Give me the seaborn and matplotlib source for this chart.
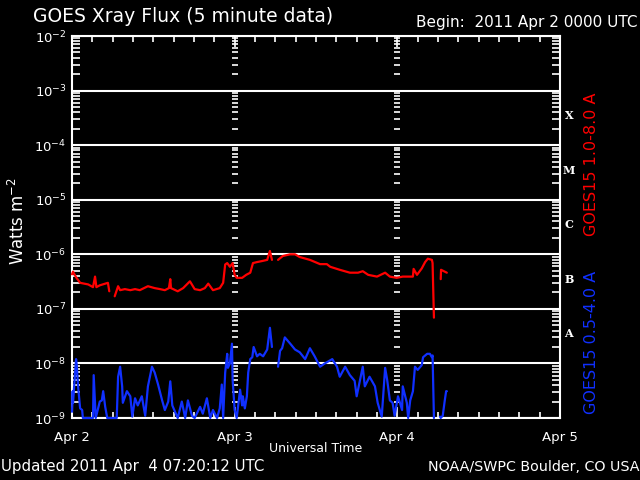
import numpy as np
import pandas as pd
import matplotlib
matplotlib.use("Agg")
import matplotlib.pyplot as plt
import seaborn as sns
from matplotlib.ticker import FixedLocator, NullFormatter, LogFormatterSciNotation
import matplotlib.transforms as mtransforms

nan = np.nan

# hours since 2011 Apr 2 0000 UTC, flux in W m^-2 (nan = data gap)
red_hours = [0.0, 0.15, 0.6, 1.2, 2.4, 3.1, 3.4, 3.6, 4.1, 5.3, 5.5, 6.0, 6.3, 6.8, 7.1, 7.8, 8.6, 9.3,
             10.0, 11.2, 12.2, 13.0, 13.7, 14.3, 14.5, 14.6, 15.6, 16.4, 17.4, 18.1, 18.9, 19.6, 20.1,
             20.8, 21.8, 22.3, 22.6, 22.9, 23.3, 23.7, 24.0, 24.3, 25.1, 25.7, 26.3, 26.7, 27.3, 28.0,
             28.8, 29.2, 29.5, 30.0, 30.4, 31.1, 32.2, 32.9, 33.6, 35.1, 36.6, 37.6, 38.1, 39.5, 41.0,
             42.2, 42.9, 43.7, 45.0, 46.2, 46.9, 47.9, 48.8, 49.9, 50.3, 50.4, 50.9, 51.6, 52.1, 52.5,
             53.1, 53.2, 53.4, 53.8, 54.4, 54.45, 55.3]
red_flux = [4.3e-7, 4.8e-7, 3.8e-7, 3.0e-7, 2.8e-7, 2.5e-7, 3.9e-7, 2.5e-7, 2.7e-7, 3.0e-7, 2.1e-7, nan,
            1.7e-7, 2.6e-7, 2.2e-7, 2.3e-7, 2.2e-7, 2.3e-7, 2.2e-7, 2.6e-7, 2.4e-7, 2.3e-7, 2.2e-7,
            2.4e-7, 3.5e-7, 2.4e-7, 2.1e-7, 2.4e-7, 3.2e-7, 2.3e-7, 2.2e-7, 2.4e-7, 2.9e-7, 2.2e-7,
            2.4e-7, 3.0e-7, 6.5e-7, 6.9e-7, 5.9e-7, 6.9e-7, 4.2e-7, 3.7e-7, 3.7e-7, 4.2e-7, 4.6e-7,
            6.9e-7, 7.2e-7, 7.5e-7, 7.9e-7, 1.15e-6, 7.9e-7, nan, 7.9e-7, 9.3e-7, 1.0e-6, 1.0e-6,
            8.9e-7, 7.9e-7, 6.6e-7, 6.6e-7, 5.9e-7, 5.2e-7, 4.6e-7, 4.6e-7, 4.9e-7, 4.2e-7, 3.9e-7,
            4.6e-7, 3.9e-7, 3.7e-7, 3.9e-7, 3.9e-7, 3.9e-7, 5.4e-7, 4.2e-7, 5.5e-7, 7.2e-7, 8.3e-7,
            7.9e-7, 6.9e-7, 6.9e-8, nan, 3.5e-7, 5.2e-7, 4.6e-7]

blue_hours = [0.0, 0.1, 0.15, 0.6, 0.7, 0.9, 1.2, 1.5, 1.6, 3.1, 3.2, 3.5, 4.1, 4.4, 4.6, 4.9, 5.2, 6.6,
              6.8, 7.1, 7.4, 7.5, 8.1, 8.6, 8.9, 9.3, 9.7, 10.3, 10.8, 11.2, 11.8, 12.2, 12.7, 13.3,
              13.7, 14.2, 14.5, 14.8, 15.2, 15.6, 16.2, 16.7, 17.1, 17.7, 18.1, 18.9, 19.3, 19.9, 20.4,
              20.8, 21.4, 21.8, 22.1, 22.3, 22.6, 22.9, 23.0, 23.3, 23.6, 23.7, 24.0, 24.3, 24.8, 25.1,
              25.2, 25.5, 25.8, 26.0, 26.3, 26.6, 26.8, 27.3, 27.7, 28.2, 28.8, 29.2, 29.5, 30.0, 30.4,
              30.7, 31.0, 31.4, 32.2, 32.9, 33.6, 34.4, 35.1, 35.8, 36.6, 37.3, 38.4, 39.1, 39.5, 40.3,
              41.0, 41.7, 42.0, 42.9, 43.2, 43.9, 44.7, 45.1, 45.7, 46.2, 46.5, 46.9, 47.3, 47.6, 48.1,
              48.7, 48.8, 49.4, 49.6, 49.9, 50.3, 50.6, 51.0, 51.6, 51.8, 52.4, 52.8, 53.1, 53.2, 53.4,
              53.8, 54.3, 54.4, 54.7, 55.0, 55.2, 55.3]
blue_flux = [1.3e-9, 3.1e-9, 1.9e-9, 1.2e-8, 9.3e-9, 3.8e-9, 1.5e-9, 1.4e-9, 1.0e-9, 1.0e-9,
             6.1e-9, 1.0e-9, 2.0e-9, 2.1e-9, 3.1e-9, 1.6e-9, 1.0e-9, 1.0e-9, 5.7e-9, 8.7e-9,
             3.8e-9, 1.9e-9, 3.1e-9, 2.5e-9, 1.06e-9, 2.3e-9, 1.7e-9, 2.5e-9, 1.1e-9, 3.8e-9,
             8.7e-9, 6.8e-9, 4.1e-9, 2.1e-9, 1.4e-9, 2.0e-9, 4.7e-9, 1.7e-9, 1.3e-9, 1.0e-9,
             2.0e-9, 1.0e-9, 2.1e-9, 1.1e-9, 1.0e-9, 1.6e-9, 1.2e-9, 2.3e-9, 1.0e-9, 1.4e-9,
             1.0e-9, 1.5e-9, 4.1e-9, 1.0e-9, 6.8e-9, 1.5e-8, 8.3e-9, 1.0e-8, 2.3e-8, 5.0e-9,
             1.4e-9, 1.0e-9, 3.3e-9, 1.7e-9, 2.5e-9, 1.5e-9, 2.5e-9, 6.8e-9, 1.2e-8, 1.3e-8,
             2.0e-8, 1.35e-8, 1.5e-8, 1.35e-8, 1.8e-8, 4.5e-8, 2.0e-8, nan, 8.7e-9, 1.7e-8,
             1.9e-8, 3.0e-8, 2.3e-8, 1.8e-8, 1.6e-8, 1.2e-8, 1.9e-8, 1.35e-8, 8.7e-9, 1.0e-8,
             1.2e-8, 8.7e-9, 5.7e-9, 8.7e-9, 6.1e-9, 4.8e-9, 2.5e-9, 8.7e-9, 3.8e-9, 5.7e-9,
             3.8e-9, 1.9e-9, 1.06e-9, 8.3e-9, 5.0e-9, 2.1e-9, 1.9e-9, 1.1e-9, 2.5e-9, 1.4e-9,
             3.8e-9, 1.9e-9, 1.0e-9, 2.1e-9, 3.1e-9, 8.7e-9, 7.6e-9, 9.3e-9, 1.3e-8, 1.5e-8,
             1.5e-8, 1.3e-8, 1.4e-8, 1.0e-9, nan, 1.06e-9, 1.0e-9, 1.1e-9, 2.1e-9, 3.1e-9,
             3.1e-9]

day_ticks = [0, 24, 48, 72]
day_labels = ["Apr 2", "Apr 3", "Apr 4", "Apr 5"]
decades = [1e-9, 1e-8, 1e-7, 1e-6, 1e-5, 1e-4, 1e-3, 1e-2]
class_labels = ["X", "M", "C", "B", "A"]
class_pos = [10**-3.46, 10**-4.46, 10**-5.46, 10**-6.46, 10**-7.46]

RED = "#ff0000"
BLUE = "#1030ff"


def to_frame(hours, flux):
    df = pd.DataFrame({"hour": hours, "flux": flux})
    df["seg"] = df["flux"].isna().cumsum()
    return df.dropna()


red_df = to_frame(red_hours, red_flux)
blue_df = to_frame(blue_hours, blue_flux)

sns.set_theme(style="ticks", rc={
    "axes.facecolor": "black", "figure.facecolor": "black",
    "axes.edgecolor": "white", "text.color": "white",
    "xtick.color": "white", "ytick.color": "white",
    "axes.labelcolor": "white", "axes.linewidth": 1.5,
})
plt.rcParams["font.family"] = ["DejaVu Sans"]

fig = plt.figure(figsize=(6.4, 4.8), dpi=100)
ax = fig.add_axes([72/640, 1-418/480, (560-72)/640, (418-36)/480])
ax.set_yscale("log")
ax.set_ylim(1e-9, 1e-2)
ax.set_xlim(0, 72)

#data lines
sns.lineplot(data=red_df, x="hour", y="flux", units="seg", estimator=None,
             color=RED, lw=1.6, ax=ax, clip_on=False, zorder=5)
sns.lineplot(data=blue_df, x="hour", y="flux", units="seg", estimator=None,
             color=BLUE, lw=1.6, ax=ax, clip_on=False, zorder=5)

#axes and ticks (fixed so nothing sits outside the range)
minor_vals = [m * d for d in decades[:-1] for m in range(2, 10)]
ax.yaxis.set_major_locator(FixedLocator(decades))
ax.yaxis.set_major_formatter(LogFormatterSciNotation())
ax.yaxis.set_minor_locator(FixedLocator(minor_vals))
ax.yaxis.set_minor_formatter(NullFormatter())
ax.grid(axis="y", which="major", color="white", lw=1.5)
ax.set_xticks(day_ticks)
ax.set_xticklabels(day_labels)
ax.set_xticks(np.arange(0, 73, 3), minor=True)
ax.tick_params(axis="x", which="major", direction="in", length=8, width=1.2,
               top=True, bottom=True, pad=9, labelsize=9.5)
ax.tick_params(axis="x", which="minor", direction="in", length=4, width=1.2,
               top=True, bottom=True)
ax.tick_params(axis="y", which="major", direction="in", length=0, pad=4, labelsize=9.5)
ax.tick_params(axis="y", which="minor", direction="in", length=6, width=1.2,
               left=True, right=True)
ax.set_xlabel("")
ax.set_ylabel("")

#tick ladders at day boundaries
for d in day_ticks[1:3]:
    ax.plot([d] * len(minor_vals), minor_vals, ls="none", marker="_", ms=5, mew=1.2, color="white")

#flare class letters
trans = mtransforms.blended_transform_factory(ax.transAxes, ax.transData)
for lab, yv in zip(class_labels, class_pos):
    ax.text(1.018, yv, lab, transform=trans, color="white", fontsize=8,
            family="DejaVu Serif", fontweight="bold", ha="center", va="center")

#texts
fig.text(33/640, 1-17/480, "GOES Xray Flux (5 minute data)", ha="left", va="center", fontsize=13.5)
fig.text(637/640, 1-23/480, "Begin:  2011 Apr 2 0000 UTC", ha="right", va="center", fontsize=11)
fig.text(1/640, 1-467/480, "Updated 2011 Apr  4 07:20:12 UTC", ha="left", va="center", fontsize=10.8)
fig.text(639/640, 1-467/480, "NOAA/SWPC Boulder, CO USA", ha="right", va="center", fontsize=10.3)
fig.text(316/640, 1-448/480, "Universal Time", ha="center", va="center", fontsize=9)
fig.text(18/640, 1-221/480, "Watts m$^{-2}$", rotation=90, ha="center", va="center", fontsize=12)
fig.text(591/640, 1-164/480, "GOES15 1.0-8.0 A", rotation=90, ha="center", va="center",
         fontsize=11.5, color=RED)
fig.text(591/640, 1-342/480, "GOES15 0.5-4.0 A", rotation=90, ha="center", va="center",
         fontsize=11.5, color=BLUE)

fig.savefig("out.png", dpi=100, facecolor="black")
